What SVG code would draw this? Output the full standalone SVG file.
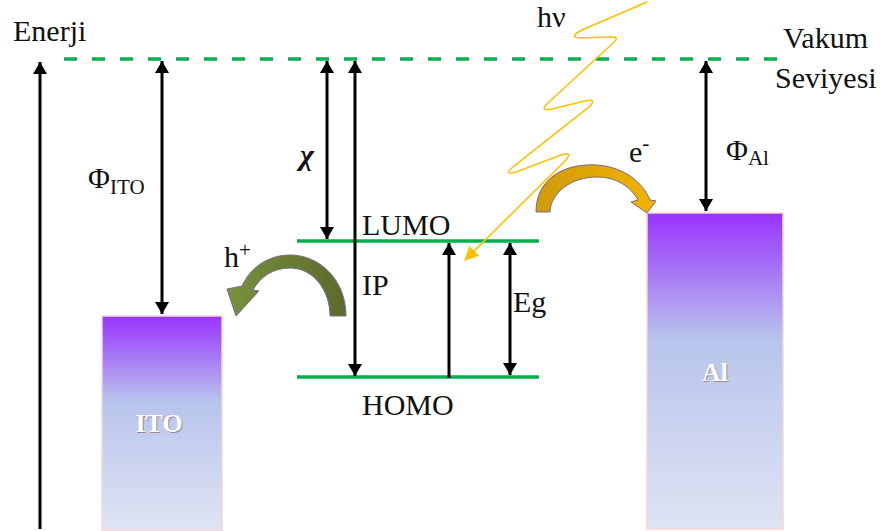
<svg xmlns="http://www.w3.org/2000/svg" width="883" height="531" viewBox="0 0 883 531">
<style>
.t{font-family:"Liberation Serif","Times New Roman",serif;font-size:30px;fill:#111}
.sub{font-size:21px}
.ln{stroke:#000;stroke-width:3;fill:none}
.lvl{stroke:#00B050;stroke-width:3.5;fill:none}
.metal{fill:url(#grad);stroke:#f6d6d6;stroke-width:1.5}
.mt{font-family:"Liberation Serif","Times New Roman",serif;font-size:26px;font-weight:bold;text-anchor:middle}
</style>
<defs>
<linearGradient id="grad" x1="0" y1="0" x2="0" y2="1">
<stop offset="0" stop-color="#9933FF"/>
<stop offset="0.4" stop-color="#B8C4EC"/>
<stop offset="1" stop-color="#DFE4F3"/>
</linearGradient>
<linearGradient id="gGreen" x1="0" y1="0" x2="1" y2="0">
<stop offset="0" stop-color="#77923C"/>
<stop offset="1" stop-color="#5B6A2C"/>
</linearGradient>
<linearGradient id="gGold" x1="0" y1="0" x2="1" y2="0">
<stop offset="0" stop-color="#CF9A0A"/>
<stop offset="1" stop-color="#F2B300"/>
</linearGradient>
<marker id="ah" viewBox="0 0 12 16" refX="12" refY="8" markerWidth="12" markerHeight="16" markerUnits="userSpaceOnUse" orient="auto-start-reverse">
<path d="M0,1 L12,8 L0,15 Z" fill="#000"/>
</marker>
<marker id="ahy" viewBox="0 0 14 14" refX="13" refY="7" markerWidth="14" markerHeight="14" markerUnits="userSpaceOnUse" orient="auto">
<path d="M0,0 L14,7 L0,14 Z" fill="#FFC000"/>
</marker>
</defs>
<rect width="883" height="531" fill="#fff"/>

<g id="ito">
<rect class="metal" x="102" y="316" width="120" height="214"/>
<text class="mt" x="160" y="433" fill="#9c8686">ITO</text>
<text class="mt" x="159" y="432" fill="#fff">ITO</text>
</g>
<g id="al">
<rect class="metal" x="647" y="213" width="136" height="316"/>
<text class="mt" x="716" y="382" fill="#9c8686">Al</text>
<text class="mt" x="715" y="381" fill="#fff">Al</text>
</g>

<g id="levels">
<line class="lvl" x1="64" y1="59" x2="782" y2="59" stroke-dasharray="13 15"/>
<line class="lvl" x1="297" y1="241" x2="539" y2="241" stroke-width="3"/>
<line class="lvl" x1="297" y1="377" x2="539" y2="377" stroke-width="3"/>
</g>

<g id="connectors">
<line class="ln" x1="40" y1="529" x2="40" y2="62" marker-end="url(#ah)"/>
<line class="ln" x1="162" y1="61" x2="162" y2="314" marker-start="url(#ah)" marker-end="url(#ah)"/>
<line class="ln" x1="327" y1="61" x2="327" y2="239" marker-start="url(#ah)" marker-end="url(#ah)"/>
<line class="ln" x1="355" y1="61" x2="355" y2="376" marker-start="url(#ah)" marker-end="url(#ah)"/>
<line class="ln" x1="449" y1="378" x2="449" y2="243" marker-end="url(#ah)"/>
<line class="ln" x1="510" y1="243" x2="510" y2="375" marker-start="url(#ah)" marker-end="url(#ah)"/>
<line class="ln" x1="706" y1="61" x2="706" y2="211" marker-start="url(#ah)" marker-end="url(#ah)"/>
</g>

<g id="photon">
<path d="M647,2 L582,30 Q568,37 580,38 L608,37 Q622,36 612,44 L549,102 Q538,112 552,109 L585,101 Q598,98 589,107 L514,166 Q502,176 516,172 L561,155 Q574,151 565,161 L465,260" fill="none" stroke="#FFC000" stroke-width="1.6" marker-end="url(#ahy)"/>
</g>

<g id="e-arrow">
<path d="M536,212 C536,178 565,163 597,165 C625,167 643,183 650,200 L656,201 L647,213 L631,202 L638,200 C631,187 617,177 597,177 C572,177 551,192 550,212 Z" fill="url(#gGold)" stroke="#7a6a90" stroke-width="1"/>
</g>
<g id="h-arrow">
<path d="M346,316 C346,280 320,255 290,255 C268,255 250,268 242,286 L227,289 L236,316 L259,291 L253,290 C260,277 273,268 290,268 C313,268 330,290 330,316 Z" fill="url(#gGreen)" stroke="#7a6a90" stroke-width="1"/>
</g>

<g id="labels">
<text class="t" x="13" y="41">Enerji</text>
<text class="t" x="783" y="48">Vakum</text>
<text class="t" x="775" y="88">Seviyesi</text>
<text class="t" x="537" y="27">hν</text>
<text class="t" x="88" y="188">Φ<tspan class="sub" dy="6">ITO</tspan></text>
<text class="t" x="726" y="160">Φ<tspan class="sub" dy="5">Al</tspan></text>
<text class="t" x="300" y="165" font-weight="bold" font-style="italic">χ</text>
<text class="t" x="362" y="235">LUMO</text>
<text class="t" x="362" y="295">IP</text>
<text class="t" x="362" y="415">HOMO</text>
<text class="t" x="513" y="312">Eg</text>
<text class="t" x="629" y="162">e<tspan class="sub" dy="-12">-</tspan></text>
<text class="t" x="224" y="267">h<tspan class="sub" dy="-10">+</tspan></text>
</g>
</svg>
